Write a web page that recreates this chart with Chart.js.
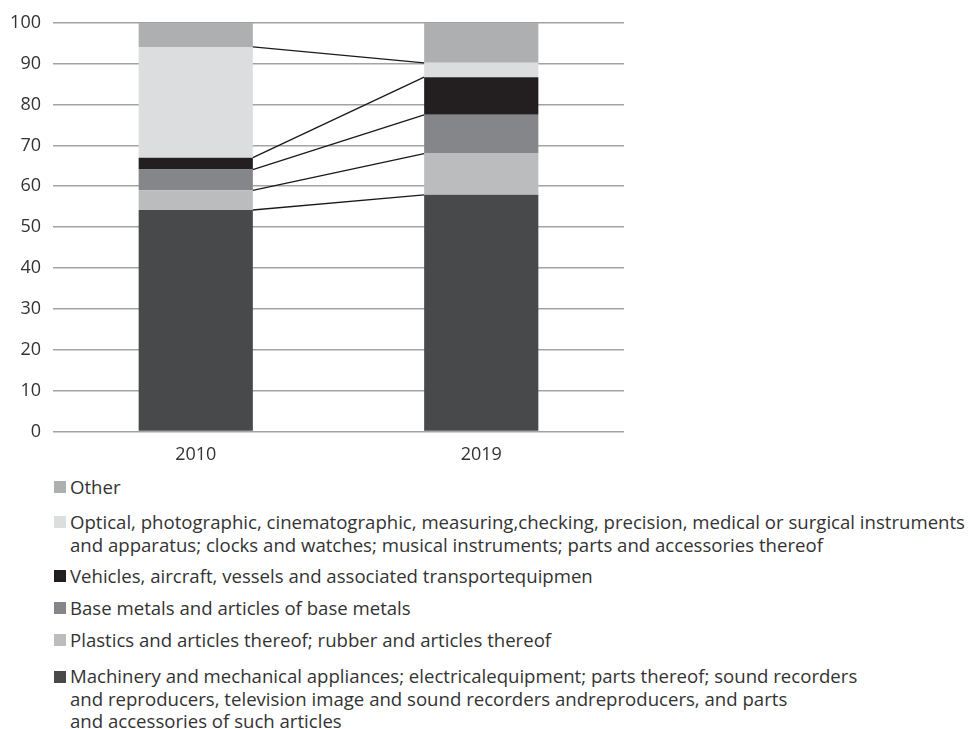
<!DOCTYPE html>
<html>
<head>
<meta charset="utf-8">
<script src="https://cdn.jsdelivr.net/npm/chart.js@4"></script>
<style>
  html, body { margin: 0; padding: 0; background: #fff; }
  body { width: 970px; height: 729px; position: relative; overflow: hidden; font-family: "Open Sans", sans-serif; }
  #wrap { position: absolute; left: 0; top: 0; width: 970px; height: 470px; }
  #legend { position: absolute; left: 54px; top: 475px; margin: 0; padding: 0; list-style: none; color: #333; font-size: 18.6px; line-height: 23px; }
  #legend li { position: relative; padding-left: 16px; margin-bottom: 9px; white-space: nowrap; }
  #legend li:nth-child(1) { margin-bottom: 12px; }
  #legend li:nth-child(2) { margin-bottom: 8px; }
  #legend li:nth-child(5) { margin-bottom: 14px; }
  #legend li:nth-child(6) { line-height: 22.5px; }
  #legend li span.box { position: absolute; left: 0; top: 6px; width: 12px; height: 12px; }
</style>
</head>
<body>
<div id="wrap"><canvas id="chart"></canvas></div>
<ul id="legend"></ul>
<script>
// Share of exports by product group, 2010 vs 2019 (%)
const years = ['2010', '2019'];
const yTicks = [0, 10, 20, 30, 40, 50, 60, 70, 80, 90, 100];

// Stacked from the bottom up
const machinery = [54.2, 57.9];
const plastics  = [4.8, 10.1];
const baseMetals = [5.1, 9.5];
const vehicles  = [2.9, 9.2];
const optical   = [27.1, 3.5];
const other     = [5.9, 9.8];

const nameMachinery = ['Machinery and mechanical appliances; electricalequipment; parts thereof; sound recorders',
                       'and reproducers, television image and sound recorders andreproducers, and parts',
                       'and accessories of such articles'];
const namePlastics = ['Plastics and articles thereof; rubber and articles thereof'];
const nameBaseMetals = ['Base metals and articles of base metals'];
const nameVehicles = ['Vehicles, aircraft, vessels and associated transportequipmen'];
const nameOptical = ['Optical, photographic, cinematographic, measuring,checking, precision, medical or surgical instruments',
                     'and apparatus; clocks and watches; musical instruments; parts and accessories thereof'];
const nameOther = ['Other'];

const series = [
  { lines: nameMachinery, values: machinery, color: '#48494b' },
  { lines: namePlastics, values: plastics, color: '#bbbcbe' },
  { lines: nameBaseMetals, values: baseMetals, color: '#858689' },
  { lines: nameVehicles, values: vehicles, color: '#231f20' },
  { lines: nameOptical, values: optical, color: '#dcdddf' },
  { lines: nameOther, values: other, color: '#aeafb1' }
];

// Lines joining each segment boundary between the two bars
const seriesLines = {
  id: 'seriesLines',
  afterDatasetsDraw(chart) {
    const y = chart.scales.y;
    const ctx = chart.ctx;
    const n = chart.data.datasets.length;
    const cum = [0, 0];
    ctx.save();
    ctx.strokeStyle = '#1a1a1a';
    ctx.lineWidth = 1.3;
    for (let i = 0; i < n - 1; i++) {
      const ds = chart.data.datasets[i];
      cum[0] += ds.data[0];
      cum[1] += ds.data[1];
      const meta = chart.getDatasetMeta(i);
      const a = meta.data[0], b = meta.data[1];
      const x0 = a.x + a.width / 2;
      const x1 = b.x - b.width / 2;
      ctx.beginPath();
      ctx.moveTo(x0, y.getPixelForValue(cum[0]));
      ctx.lineTo(x1, y.getPixelForValue(cum[1]));
      ctx.stroke();
    }
    ctx.restore();
  }
};

const font = { family: '"Open Sans", sans-serif', size: 18 };

new Chart(document.getElementById('chart'), {
  type: 'bar',
  data: {
    labels: years,
    datasets: series.map(s => ({
      label: s.lines.join(' '),
      data: s.values,
      backgroundColor: s.color,
      borderWidth: 0,
      categoryPercentage: 1,
      barPercentage: 0.4
    }))
  },
  options: {
    responsive: true,
    maintainAspectRatio: false,
    animation: false,
    layout: { padding: { top: 22, right: 346, left: 0, bottom: 0 } },
    plugins: { legend: { display: false }, tooltip: { enabled: false } },
    scales: {
      x: {
        stacked: true,
        grid: { display: false },
        border: { display: false },
        ticks: { color: '#333', font, padding: 5 },
        afterFit(scale) { scale.height = 38.5; }
      },
      y: {
        stacked: true,
        min: 0,
        max: 100,
        afterBuildTicks(scale) { scale.ticks = yTicks.map(v => ({ value: v })); },
        grid: { color: '#a3a3a3', lineWidth: 1.6, drawTicks: false },
        border: { display: false },
        ticks: { color: '#333', font, padding: 12 },
        afterFit(scale) { scale.width = 53; }
      }
    }
  },
  plugins: [seriesLines]
});

// Legend, top to bottom in reverse stacking order
const legend = document.getElementById('legend');
series.slice().reverse().forEach(s => {
  const li = document.createElement('li');
  const box = document.createElement('span');
  box.className = 'box';
  box.style.background = s.color;
  li.appendChild(box);
  s.lines.forEach((t, i) => {
    if (i) li.appendChild(document.createElement('br'));
    li.appendChild(document.createTextNode(t));
  });
  legend.appendChild(li);
});
</script>
</body>
</html>
